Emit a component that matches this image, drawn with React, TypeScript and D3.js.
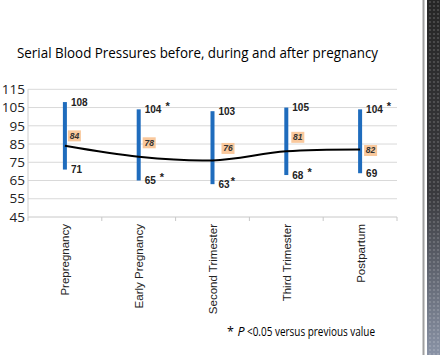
import React from "react";
import * as d3 from "d3";

const categories = ["Prepregnancy", "Early Pregnancy", "Second Trimester", "Third Trimester", "Postpartum"];
const highValues = [108, 104, 103, 105, 104];
const lowValues = [71, 65, 63, 68, 69];
const meanValues = [84, 78, 76, 81, 82];
const highSig = [false, true, false, false, true];
const lowSig = [false, true, true, true, false];
const yTicks = [45, 55, 65, 75, 85, 95, 105, 115];
// mean label nudges (px) as placed in the original
const meanLabelDy = [-10, -14, -12, -14, 1];
const meanLabelDx = [3, 4, 9, 5, 4];

const W = 440;
const H = 355;

export default function App() {
  const left = 28;
  const right = 397;
  const top = 89.3;
  const bottom = 217;

  const x = d3.scaleBand<string>().domain(categories).range([left, right]);
  const y = d3.scaleLinear().domain([45, 115]).range([bottom, top]);
  const cx = (c: string) => (x(c) as number) + x.bandwidth() / 2;

  const line = d3
    .line<number>()
    .x((_, i) => cx(categories[i]))
    .y((d) => y(d))
    .curve(d3.curveCardinal.tension(0));

  const labelFont = "'Liberation Sans', Arial, sans-serif";
  const bodyFont = "'Open Sans', sans-serif";

  return (
    <svg
      width={W}
      height={H}
      style={{ position: "absolute", left: 0, top: 0, background: "#fff" }}
    >
      <defs>
        <linearGradient id="strip" x1="0" y1="0" x2="0" y2="1">
          <stop offset="0" stopColor="#262626" />
          <stop offset="0.55" stopColor="#3a3a3e" />
          <stop offset="1" stopColor="#8a93a6" />
        </linearGradient>
        <pattern id="dots" width="4" height="4" patternUnits="userSpaceOnUse">
          <circle cx="2" cy="2" r="1.1" fill="#ffffff" fillOpacity="0.18" />
        </pattern>
      </defs>

      {/* title */}
      <text
        x={17}
        y={58}
        fontFamily={bodyFont}
        fontSize={15}
        fill="#000"
        textLength={361}
        lengthAdjust="spacingAndGlyphs"
      >
        Serial Blood Pressures before, during and after pregnancy
      </text>

      {/* gridlines */}
      {yTicks.map((t) => (
        <line key={t} x1={left} x2={right} y1={y(t)} y2={y(t)} stroke={t === 45 ? "#c8c8c8" : "#d9d9d9"} strokeWidth={1} />
      ))}
      <line x1={left} x2={left} y1={top} y2={bottom} stroke="#d0d0d0" />
      {d3.range(categories.length + 1).map((i) => {
        const xx = left + i * x.bandwidth();
        return <line key={i} x1={xx} x2={xx} y1={bottom} y2={bottom + 4} stroke="#c8c8c8" />;
      })}

      {/* y tick labels */}
      {yTicks.map((t) => (
        <text
          key={t}
          x={25}
          y={y(t)}
          dy="0.35em"
          textAnchor="end"
          fontFamily={bodyFont}
          fontSize={13.5}
          fill="#222"
        >
          {t}
        </text>
      ))}

      {/* category labels */}
      {categories.map((c) => (
        <text
          key={c}
          transform={`translate(${cx(c) + 4.5},${224}) rotate(-90)`}
          textAnchor="end"
          fontFamily={labelFont}
          fontSize={11.5}
          fill="#222"
        >
          {c}
        </text>
      ))}

      {/* range bars */}
      {categories.map((c, i) => (
        <rect
          key={c}
          x={cx(c) - 2}
          width={4}
          y={y(highValues[i])}
          height={y(lowValues[i]) - y(highValues[i])}
          fill="#1f6cbd"
        />
      ))}

      {/* mean line */}
      <path d={line(meanValues) || ""} fill="none" stroke="#000" strokeWidth={2} />

      {/* high / low labels */}
      {categories.map((c, i) => (
        <g key={c} fontFamily={labelFont} fontWeight="bold" fontSize={10} fill="#222">
          <text x={cx(c) + 6} y={y(highValues[i])} dy="0.35em">
            {highValues[i]}
            {highSig[i] ? (
              <tspan dx={4} dy={-3} fontSize={11}>*</tspan>
            ) : null}
          </text>
          <text x={cx(c) + 6} y={y(lowValues[i])} dy="0.35em">
            {lowValues[i]}
            {lowSig[i] ? (
              <tspan dx={i === 2 ? 1 : 4} dy={-3} fontSize={11}>*</tspan>
            ) : null}
          </text>
        </g>
      ))}

      {/* mean labels */}
      {categories.map((c, i) => {
        const bx = cx(c) + meanLabelDx[i];
        const by = y(meanValues[i]) + meanLabelDy[i];
        return (
          <g key={c}>
            <rect x={bx} y={by - 5.5} width={13} height={11} fill="#f9c89c" />
            <text
              x={bx + 6.5}
              y={by}
              dy="0.35em"
              textAnchor="middle"
              fontFamily={labelFont}
              fontStyle="italic"
              fontWeight="bold"
              fontSize={8.5}
              fill="#333"
            >
              {meanValues[i]}
            </text>
          </g>
        );
      })}

      {/* footnote */}
      <g fontFamily={bodyFont} fontSize={12.5} fill="#000">
        <text x={227} y={336}>*</text>
        <text x={237.5} y={336} fontStyle="italic">P</text>
        <text x={247} y={336} textLength={128} lengthAdjust="spacingAndGlyphs">
          &lt;0.05 versus previous value
        </text>
      </g>

      {/* decorative right strip */}
      <line x1={423.5} x2={423.5} y1={0} y2={H} stroke="#a0a0a0" strokeWidth={2} />
      <rect x={427} y={0} width={13} height={H} fill="url(#strip)" />
      <rect x={427} y={0} width={13} height={H} fill="url(#dots)" />
    </svg>
  );
}
